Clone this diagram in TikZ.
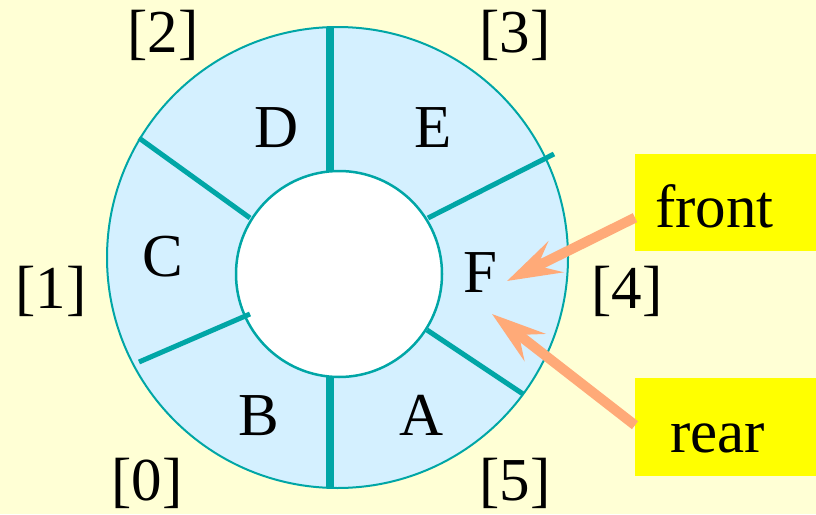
\documentclass[tikz,border=0pt]{standalone}
\usepackage{fontspec}
\setmainfont{Liberation Serif}
\newfontfamily\labelface{Liberation Serif}
\usetikzlibrary{arrows.meta,calc}
\definecolor{paper}{RGB}{255,255,213}
\definecolor{slot}{RGB}{212,240,255}
\definecolor{rim}{RGB}{0,166,166}
\definecolor{pointer}{RGB}{255,170,120}
\definecolor{tag}{RGB}{255,255,0}
\begin{document}
\begin{tikzpicture}[x=1pt,y=-1pt,
  every node/.style={font=\labelface\fontsize{61}{72}\selectfont, inner sep=0pt},
  cell/.style={anchor=base},
  index/.style={anchor=base},
  divider/.style={draw=rim, line width=5pt},
  mainsplit/.style={draw=rim, line width=8.5pt},
  tagbox/.style={fill=tag, anchor=north west, inner ysep=0pt, align=left},
  pointerarrow/.style={draw=pointer, line width=10pt,
    -{Stealth[length=54pt,width=34pt,inset=20pt]}}]

% canvas
\fill[paper] (0,0) rectangle (816,514);
\useasboundingbox (0,0) rectangle (816,514);

% ring of six slots
\filldraw[fill=slot, draw=rim, line width=2pt] (337.5,257.5) circle (230.5);
\filldraw[fill=white, draw=rim, line width=2.5pt] (339,274) circle (103);

% slot dividers
\draw[mainsplit] (330,28) -- (330,171);
\draw[mainsplit] (330,377) -- (330,487);
\draw[divider] (139,138) -- (250,218);
\draw[divider] (139,362) -- (250,314);
\draw[divider] (554,154) -- (428,218);
\draw[divider] (427,330) -- (523,394);

% slot contents
\node[cell] (D) at (277,147) {D};
\node[cell] (E) at (433,147) {E};
\node[cell] (C) at (163,276) {C};
\node[cell] (F) at (480,292) {F};
\node[cell] (B) at (259,435) {B};
\node[cell] (A) at (422,435) {A};

% slot indices
\node[index] (i2) at (163,52) {[2]};
\node[index] (i3) at (515,52) {[3]};
\node[index] (i1) at (51,308) {[1]};
\node[index] (i4) at (627,308) {[4]};
\node[index] (i0) at (147,500) {[0]};
\node[index] (i5) at (515,500) {[5]};

% pointer labels
\node[tagbox, text height=73pt, text depth=24pt, inner xsep=20pt, text width=145pt]
  (front) at (635,154) {front};
\node[tagbox, text height=74pt, text depth=24pt, inner xsep=35pt, text width=115pt]
  (rear) at (635,378) {rear};

\coordinate (ftip) at (507,281);
\coordinate (rtip) at (492,314);
\draw[pointerarrow] ($(front.west)+(0,15)$) -- (ftip);
\draw[pointerarrow] ($(rear.west)+(0,-2)$) -- (rtip);
\end{tikzpicture}
\end{document}
